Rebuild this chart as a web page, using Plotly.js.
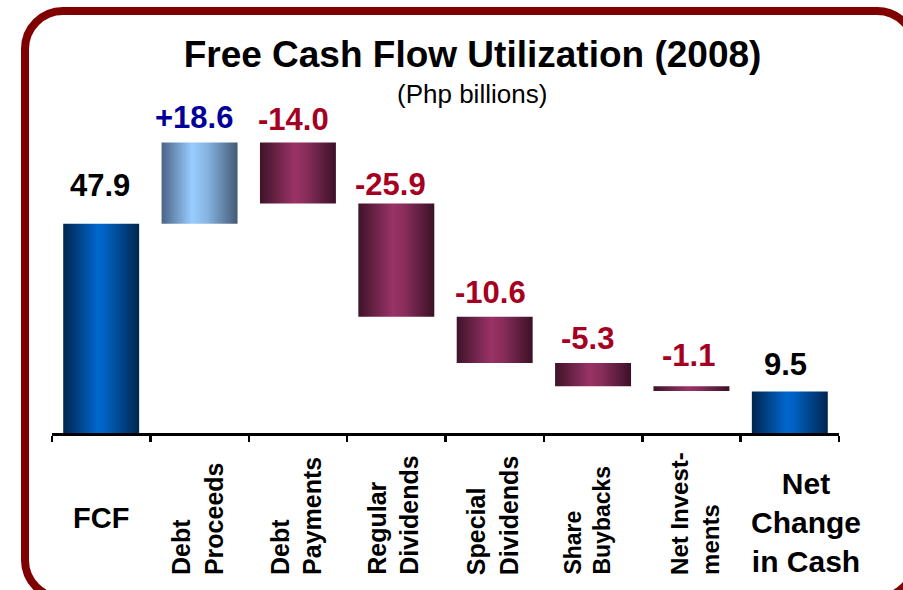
<!DOCTYPE html>
<html><head><meta charset="utf-8">
<script src="https://cdn.plot.ly/plotly-3.0.1.min.js"></script>
<style>html,body{margin:0;padding:0;background:#fff;} #chart{width:903px;height:590px;}</style>
</head><body><div id="chart"></div>
<script>
// ---- data ----
const categories = ['FCF','Debt Proceeds','Debt Payments','Regular Dividends','Special Dividends','Share Buybacks','Net Investments','Net Change in Cash'];
const tickLabels = ['FCF','Debt<br>Proceeds','Debt<br>Payments','Regular<br>Dividends','Special<br>Dividends','Share<br>Buybacks','Net Invest-<br>ments','Net<br>Change<br>in Cash'];
const measures = ['absolute','relative','relative','relative','relative','relative','relative','absolute'];
const values = [47.9, 18.6, -14.0, -25.9, -10.6, -5.3, -1.1, 9.5];
const valueLabels = ['47.9','+18.6','-14.0','-25.9','-10.6','-5.3','-1.1','9.5'];

// ---- styles ----
const FONT = 'Arial, "Liberation Sans", Helvetica, sans-serif';
const W = 903, H = 590, M = {l:52, r:64, t:106, b:157};
const plotW = W - M.l - M.r, plotH = H - M.t - M.b;
const pxPerUnit = 4.37;
const yMax = plotH / pxPerUnit;
const xp = px => (px - M.l) / plotW;
const yp = py => (H - M.b - py) / plotH;

const labelLift = [19, 5, 3, 0, 5, 5, 11, 7];
const labelShift = [-1, -6, -4, -6, -4, -6, -3, -4];
const catShift = [0, -2, -2, -3, -2, -6, 3, 16];
const catFont = [29, 25, 25, 25, 25, 23, 24, 30];

// bar tops from the running total
let run = 0; const tops = [];
values.forEach((v, i) => {
  if (measures[i] === 'absolute') { run = v; tops.push(v); }
  else { const before = run; run += v; tops.push(Math.max(before, run)); }
});

const kind = values.map((v, i) => measures[i] === 'absolute' ? 'total' : (v >= 0 ? 'up' : 'down'));
const labelColor = {total: '#000000', up: '#000099', down: '#a50021'};

const trace = {
  type: 'waterfall',
  x: categories,
  y: values,
  measure: measures,
  connector: {visible: false},
  increasing: {marker: {color: '#99ccff', line: {width: 0}}},
  decreasing: {marker: {color: '#993366', line: {width: 0}}},
  totals: {marker: {color: '#0066cc', line: {width: 0}}},
  hoverinfo: 'none',
  textinfo: 'none'
};

const annotations = [];
categories.forEach((c, i) => {
  annotations.push({
    x: c, xref: 'x', xshift: labelShift[i], y: tops[i], yref: 'y', yanchor: 'bottom', xanchor: 'center',
    yshift: labelLift[i], showarrow: false, text: '<b>' + valueLabels[i] + '</b>',
    font: {family: FONT, size: 31, color: labelColor[kind[i]]}
  });
  const horiz = (i === 0 || i === categories.length - 1);
  const boldText = tickLabels[i].split('<br>').map(s => '<b>' + s + '</b>').join('<br>');
  if (horiz) {
    annotations.push({
      x: c, xref: 'x', xshift: catShift[i], y: yp(i === 0 ? 518 : 522.5), yref: 'paper',
      xanchor: 'center', yanchor: 'middle', showarrow: false, align: 'center',
      text: boldText, font: {family: FONT, size: catFont[i], color: '#000'}
    });
  } else {
    annotations.push({
      x: c, xref: 'x', xshift: catShift[i], y: yp(577), yref: 'paper',
      xanchor: 'center', yanchor: 'bottom', showarrow: false, align: 'left', textangle: -90,
      text: boldText, font: {family: FONT, size: catFont[i], color: '#000'}
    });
  }
});
annotations.push({
  x: xp(471.5), xref: 'paper', y: yp(94.3), yref: 'paper', xanchor: 'center', yanchor: 'middle',
  showarrow: false, text: '(Php billions)', font: {family: FONT, size: 26, color: '#000'}
});

// rounded frame
function framePath(L, T, R, B, r) {
  const k = 0.5523 * r;
  const P = (x, y) => xp(x).toFixed(5) + ',' + yp(y).toFixed(5);
  return 'M' + P(L, T + r) +
    ' C' + P(L, T + r - k) + ' ' + P(L + r - k, T) + ' ' + P(L + r, T) +
    ' L' + P(R - r, T) +
    ' C' + P(R - r + k, T) + ' ' + P(R, T + r - k) + ' ' + P(R, T + r) +
    ' L' + P(R, B - r) +
    ' C' + P(R, B - r + k) + ' ' + P(R - r + k, B) + ' ' + P(R - r, B) +
    ' L' + P(L + r, B) +
    ' C' + P(L + r - k, B) + ' ' + P(L, B - r + k) + ' ' + P(L, B - r) + ' Z';
}

const layout = {
  width: W, height: H, margin: M, paper_bgcolor: '#ffffff', plot_bgcolor: '#ffffff',
  showlegend: false, waterfallgap: 0.228,
  title: {text: '<b>Free Cash Flow Utilization (2008)</b>', font: {family: FONT, size: 37, color: '#000'},
          xref: 'container', x: 472.5 / W, yref: 'container', y: 1 - 54.4 / H, xanchor: 'center', yanchor: 'middle'},
  xaxis: {type: 'category', range: [-0.5, categories.length - 0.5], tickson: 'boundaries', ticks: 'outside',
          ticklen: 6, tickwidth: 2.5, tickcolor: '#000', showline: true, linecolor: '#000', linewidth: 2.5,
          showticklabels: false, showgrid: false, zeroline: false, fixedrange: true},
  yaxis: {range: [0, yMax], showticklabels: false, showgrid: false, zeroline: false, showline: false, ticks: '', fixedrange: true},
  annotations: annotations,
  shapes: [{type: 'path', xref: 'paper', yref: 'paper', layer: 'above',
            path: framePath(25, 11, 915, 598, 38), line: {color: '#800000', width: 8}, fillcolor: 'rgba(0,0,0,0)'}]
};

const gradients = {
  total: [[0, '#002550'], [0.45, '#0066cc'], [0.55, '#0061c2'], [1, '#00264f']],
  up:    [[0, '#4a6486'], [0.4, '#99ccff'], [0.6, '#86b4e2'], [1, '#445a76']],
  down:  [[0, '#3f1329'], [0.45, '#993366'], [0.6, '#8a2e5c'], [1, '#3b1126']]
};

function applyGradients() {
  const NS = 'http://www.w3.org/2000/svg';
  const svg = document.querySelector('#chart .main-svg');
  if (!svg) return;
  let defs = svg.querySelector('defs');
  if (!defs) { defs = document.createElementNS(NS, 'defs'); svg.insertBefore(defs, svg.firstChild); }
  Object.keys(gradients).forEach(id => {
    if (document.getElementById('grad-' + id)) return;
    const g = document.createElementNS(NS, 'linearGradient');
    g.setAttribute('id', 'grad-' + id);
    g.setAttribute('x1', '0'); g.setAttribute('x2', '1'); g.setAttribute('y1', '0'); g.setAttribute('y2', '0');
    gradients[id].forEach(([o, c]) => {
      const s = document.createElementNS(NS, 'stop');
      s.setAttribute('offset', o); s.setAttribute('stop-color', c);
      g.appendChild(s);
    });
    defs.appendChild(g);
  });
  const paths = document.querySelectorAll('#chart g.point > path');
  paths.forEach((p, i) => {
    if (kind[i]) { p.style.fill = 'url(#grad-' + kind[i] + ')'; p.setAttribute('fill', 'url(#grad-' + kind[i] + ')'); }
  });
}

Plotly.newPlot('chart', [trace], layout, {staticPlot: true, displayModeBar: false}).then(applyGradients);
</script>
</body></html>
